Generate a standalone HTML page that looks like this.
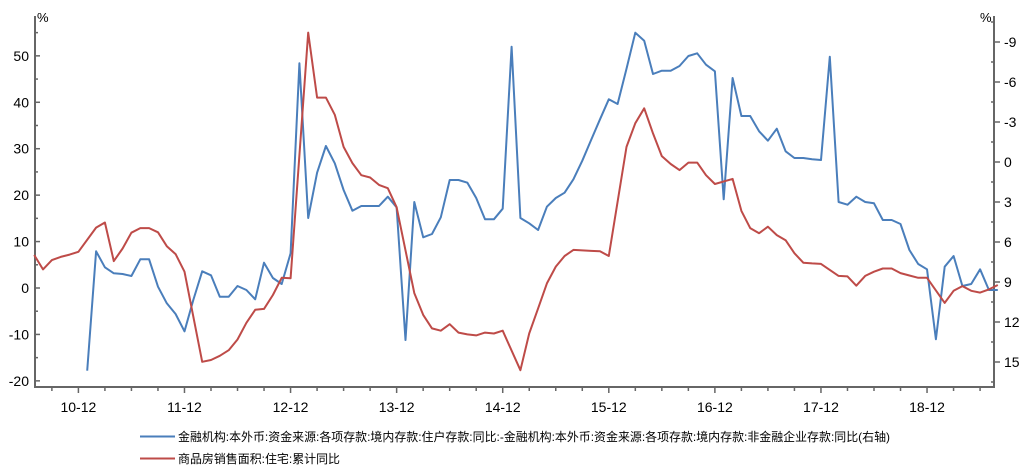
<!DOCTYPE html>
<html><head><meta charset="utf-8"><style>
html,body{margin:0;padding:0;background:#fff;}
svg{display:block;font-family:"Liberation Sans","Noto Sans CJK SC",sans-serif;}
</style></head><body>
<svg id="chart" width="1028" height="465"></svg>
<script>
// month index 0 = 2010-12
const months = [];
for (let m = -5; m <= 104; m++) months.push(m);
const xLabels = ["10-12","11-12","12-12","13-12","14-12","15-12","16-12","17-12","18-12"];
const leftTicks = [50,40,30,20,10,0,-10,-20];
const rightTicks = [-9,-6,-3,0,3,6,9,12,15];
// red: 商品房销售面积:住宅:累计同比 (left axis), m=-5..104
const redValues = [7.1,4.0,6.0,6.7,7.2,7.8,null,13.0,14.1,5.8,8.5,11.9,12.9,12.9,12.0,9.0,7.3,3.5,null,-15.9,-15.5,-14.6,-13.4,-11.1,-7.5,-4.7,-4.5,-1.5,2.2,2.1,null,55.0,41.0,41.0,37.3,30.4,26.9,24.3,23.8,22.2,21.5,17.4,null,-1.1,-5.8,-8.7,-9.2,-7.8,-9.6,-10.0,-10.2,-9.6,-9.8,-9.2,null,-17.7,-9.8,-4.4,1.0,4.6,6.9,8.2,8.1,8.0,7.9,6.9,null,30.4,35.5,38.7,33.3,28.4,26.7,25.4,27.0,27.0,24.3,22.4,null,23.5,16.6,12.9,11.8,13.2,11.4,10.3,7.5,5.45,5.3,5.2,null,2.6,2.5,0.5,2.6,3.5,4.2,4.2,3.2,2.7,2.2,2.2,null,-3.2,-0.6,0.4,-0.6,-1.0,-0.3,0.65];
// blue: 住户存款同比 - 非金融企业存款同比 (right axis, inverted), m=-5..104
const blueValues = [null,null,null,null,null,null,15.65,6.7,7.9,8.35,8.4,8.55,7.3,7.3,9.35,10.6,11.4,12.7,10.35,8.2,8.5,10.1,10.1,9.3,9.6,10.3,7.55,8.7,9.15,6.85,-7.4,4.2,0.8,-1.2,0.1,2.1,3.65,3.3,3.3,3.3,2.6,3.4,13.35,3.0,5.65,5.4,4.15,1.35,1.35,1.55,2.7,4.3,4.3,3.5,-8.65,4.2,4.6,5.1,3.35,2.7,2.3,1.3,-0.1,-1.65,-3.2,-4.7,-4.35,-7.0,-9.7,-9.1,-6.6,-6.85,-6.85,-7.2,-7.95,-8.15,-7.3,-6.8,2.8,-6.3,-3.45,-3.45,-2.3,-1.6,-2.5,-0.8,-0.3,-0.3,-0.2,-0.15,-7.9,3.0,3.2,2.6,3.0,3.1,4.35,4.35,4.65,6.6,7.65,8.05,13.3,7.85,7.05,9.3,9.15,8.05,9.6,9.6];

const NS = "http://www.w3.org/2000/svg";
const svg = document.getElementById("chart");
const X0 = 35, X1 = 994, YB = 387, YT = 16;
const xOf = m => 78.4 + 8.84 * m;
const yL = v => 288 - v * 4.643;
const yR = v => 162 + v * 13.333;
function el(tag, attrs, parent) {
  const e = document.createElementNS(NS, tag);
  for (const k in attrs) e.setAttribute(k, attrs[k]);
  (parent || svg).appendChild(e);
  return e;
}
const axisColor = "#666";
// axes
let a = el("line", {x1:X0, y1:YT, x2:X0, y2:YB, stroke:axisColor, "stroke-width":2});


a = el("line", {x1:X1, y1:YT, x2:X1, y2:YB, stroke:axisColor, "stroke-width":2});


a = el("line", {x1:X0-1, y1:YB, x2:X1+1, y2:YB, stroke:axisColor, "stroke-width":2});


// left ticks
for (let v = -20; v <= 55; v += 5) {
  const y = yL(v);
  if (y < YT || y > YB) continue;
  const major = v % 10 === 0;
  el("line", {x1:X0, y1:y, x2:X0 + (major ? 5 : 3), y2:y, stroke:axisColor, "stroke-width":1.5});
}
leftTicks.forEach(v => {
  const t = el("text", {x:X0-6, y:yL(v)+5, "text-anchor":"end", "font-size":14, fill:"#000"});
  t.textContent = v;
  
  
});
// right ticks
for (let v = -10.5; v <= 16.5; v += 1.5) {
  const y = yR(v);
  if (y < YT || y > YB) continue;
  const major = Math.abs(v % 3) < 0.01;
  el("line", {x1:X1 - (major ? 0 : 3), y1:y, x2:X1 + (major ? 6 : 0), y2:y, stroke:axisColor, "stroke-width":1.5});
}
rightTicks.forEach(v => {
  const t = el("text", {x:X1+10, y:yR(v)+5, "text-anchor":"start", "font-size":14, fill:"#000"});
  t.textContent = v;
  
  
});
// x ticks every quarter
for (let m = -3; m <= 104; m += 3) {
  const x = xOf(m);
  if (x < X0 || x > X1) continue;
  el("line", {x1:x, y1:YB, x2:x, y2:YB + (m % 12 === 0 ? 6 : 4), stroke:axisColor, "stroke-width":1.5});
}
xLabels.forEach((lab, i) => {
  const t = el("text", {x:xOf(i*12), y:412, "text-anchor":"middle", "font-size":14, fill:"#000"});
  t.textContent = lab;
  
  
});
let u = el("text", {x:37, y:22, "font-size":13, fill:"#000"}); u.textContent = "%";


u = el("text", {x:980, y:22, "font-size":13, fill:"#000"}); u.textContent = "%";



function pathFor(values, yFn) {
  let d = "";
  months.forEach((m, i) => {
    const v = values[i];
    if (v === null || v === undefined) return;
    d += (d ? "L" : "M") + xOf(m).toFixed(1) + "," + yFn(v).toFixed(1);
  });
  return d;
}
const blue = el("path", {d:pathFor(blueValues, yR), fill:"none", stroke:"#4a7ebb", "stroke-width":2, "stroke-linejoin":"round"});


const red = el("path", {d:pathFor(redValues, yL), fill:"none", stroke:"#be4b48", "stroke-width":2, "stroke-linejoin":"round"});



// legend
const lg = el("g", {});


el("line", {x1:140, y1:436.5, x2:175, y2:436.5, stroke:"#4a7ebb", "stroke-width":2}, lg);
let t1 = el("text", {x:178, y:441, "font-size":12, fill:"#000", textLength:712, lengthAdjust:"spacingAndGlyphs"}, lg);
t1.textContent = "金融机构:本外币:资金来源:各项存款:境内存款:住户存款:同比:-金融机构:本外币:资金来源:各项存款:境内存款:非金融企业存款:同比(右轴)";


el("line", {x1:140, y1:458.5, x2:175, y2:458.5, stroke:"#be4b48", "stroke-width":2}, lg);
let t2 = el("text", {x:178, y:463, "font-size":12, fill:"#000", textLength:162, lengthAdjust:"spacingAndGlyphs"}, lg);
t2.textContent = "商品房销售面积:住宅:累计同比";


</script>
</body></html>
